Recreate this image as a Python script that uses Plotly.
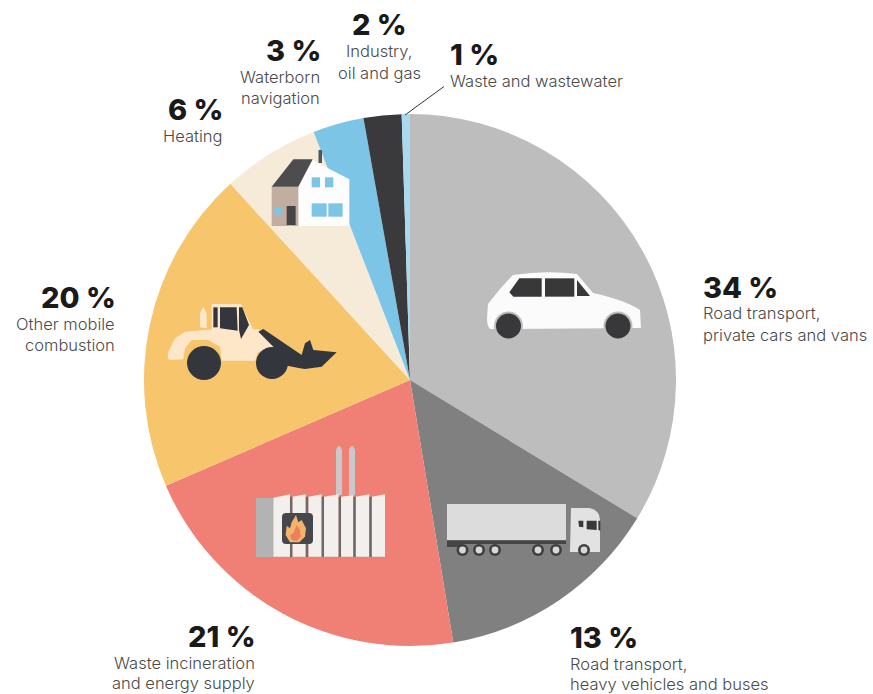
import re
import plotly.graph_objects as go

W, H = 873, 694

# ---- data -------------------------------------------------------------
categories = ["Road transport, private cars and vans", "Road transport, heavy vehicles and buses",
              "Waste incineration and energy supply", "Other mobile combustion", "Heating",
              "Waterborn navigation", "Industry, oil and gas", "Waste and wastewater"]
# slice sizes as drawn in the picture
slice_values = [33.7, 13.7, 21.1, 19.7, 5.9, 3.1, 2.3, 0.5]
percent_labels = ["34 %", "13 %", "21 %", "20 %", "6 %", "3 %", "2 %", "1 %"]
detail_lines = [["Road transport,", "private cars and vans"],
                ["Road transport,", "heavy vehicles and buses"],
                ["Waste incineration", "and energy supply"],
                ["Other mobile", "combustion"],
                ["Heating"],
                ["Waterborn", "navigation"],
                ["Industry,", "oil and gas"],
                ["Waste and wastewater"]]

# ---- styling / layout --------------------------------------------------
slice_colors = ["#bdbdbd", "#808080", "#f07f75", "#f6c56c", "#f6ead9", "#7cc5e6", "#3a3a3c", "#a9d9ef"]
label_x = [703, 570, 255, 115, 222, 320, 379, 450]
label_anchor = ["left", "left", "right", "right", "right", "right", "center", "left"]
pct_shift = {"left": -2, "right": 3, "center": 0}
detail_shift = {"left": -2, "right": 2, "center": 0}
pct_y = [287, 637, 636, 297.5, 109.5, 51, 25, 54]
detail_y = [[313, 335], [664, 684], [663, 683], [324, 345], [136], [77, 98], [51, 73], [81]]
CX, CY, R = 410, 380, 266
FONT = "Inter, Lato, sans-serif"


def px(x):
    return x / W


def py(y):
    return 1 - y / H


def poly(points, fill, **kw):
    d = "M" + " L".join(f"{px(x):.5f},{py(y):.5f}" for x, y in points) + " Z"
    return dict(type="path", path=d, xref="paper", yref="paper", fillcolor=fill,
                line=dict(width=0), layer="above", **kw)


def curve(path, fill):
    nums = iter(re.findall(r"[A-Za-z]|-?[\d.]+", path))
    out, is_x = [], True
    for tok in nums:
        if tok.isalpha():
            out.append(tok)
            is_x = True
        else:
            v = float(tok)
            out.append(f"{px(v):.5f}," if is_x else f"{py(v):.5f}")
            is_x = not is_x
    d = ""
    for t in out:
        d += t if t.endswith(",") or t.isalpha() else t + " "
    return dict(type="path", path=d, xref="paper", yref="paper", fillcolor=fill,
                line=dict(width=0), layer="above")


def circ(x, y, r, fill):
    return dict(type="circle", xref="paper", yref="paper", x0=px(x - r), x1=px(x + r),
                y0=py(y + r), y1=py(y - r), fillcolor=fill, line=dict(width=0), layer="above")


def rect(x0, y0, x1, y1, fill):
    return poly([(x0, y0), (x1, y0), (x1, y1), (x0, y1)], fill)


def z(ox, oy, pts):
    return [(ox + a / 3, oy + b / 3) for a, b in pts]


shapes = []

# leader line for the 1 % slice
shapes.append(dict(type="line", xref="paper", yref="paper", x0=px(444), y0=py(86.5), x1=px(405), y1=py(115),
                   line=dict(color="#333333", width=1), layer="above"))

# --- car
shapes.append(curve("M487,318 L488,304 Q500,288 513,275 Q545,270 577,274 L593,293 Q625,300 640,310 "
                    "L641,328 L490,329 Q487,326 487,318 Z", "#fbfbfb"))
for x in (508.5, 618):
    shapes.append(circ(x, 326, 14.5, "#bdbdbd"))
    shapes.append(circ(x, 326, 12.5, "#38383a"))
for w in ([(118, 127), (148, 85), (215, 85), (215, 140), (130, 140)],
          [(225, 85), (313, 85), (313, 140), (225, 140)],
          [(321, 90), (360, 138), (321, 138)]):
    shapes.append(poly(z(470, 250, w), "#38383a"))

# --- truck
shapes.append(rect(447, 504, 566, 540, "#dcdcdc"))
shapes.append(rect(447, 540.5, 566, 544, "#454545"))
shapes.append(rect(447, 541, 462, 547, "#454545"))
shapes.append(curve("M571,508 L589,508 Q600,510 600,520 L600,552 L570,552 Z", "#e2e2e2"))
for w in ([(445, 92), (460, 92), (460, 112), (447, 110)], [(470, 92), (500, 92), (500, 120), (470, 118)],
          [(505, 92), (511, 92), (511, 122), (505, 120)]):
    shapes.append(poly(z(430, 490, w), "#38383a"))
for x in (462.5, 479, 495, 538, 556, 584):
    shapes.append(circ(x, 550, 6, "#3f3f3f"))
    shapes.append(circ(x, 550, 3.4, "#d8d8d8"))

# --- plant
for x in (336, 349):
    shapes.append(curve(f"M{x},495 L{x},450 Q{x+3},442 {x+6},450 L{x+6},495 Z", "#c9c9c9"))
shapes.append(rect(256, 498, 273, 557, "#b3b3b3"))
for a, b, t0, t1 in ((100, 150, 188, 178), (157, 197, 185, 178), (205, 245, 185, 178), (252, 296, 185, 178),
                     (303, 340, 185, 180), (347, 388, 185, 178), (395, 435, 185, 178)):
    shapes.append(poly(z(240, 435, [(a, t0), (b, t1), (b, 365), (a, 365)]), "#f2efec"))
for zx in (153.5, 201, 248.5, 299.5, 343.5, 391.5):
    shapes.append(rect(240 + zx / 3 - 1.2, 435 + 185 / 3, 240 + zx / 3 + 1.2, 557, "#6b6b6b"))
shapes.append(curve("M286,513 L309,513 Q313,513 313,517 L313,540 Q313,544 309,544 L286,544 "
                    "Q282,544 282,540 L282,517 Q282,513 286,513 Z", "#45474d"))
shapes.append(poly(z(240, 435, [(168, 240), (175, 262), (185, 255), (198, 280), (195, 305), (178, 322), (150, 322),
                                (137, 300), (140, 272), (150, 280), (155, 262)]), "#f4b469"))
shapes.append(poly(z(240, 435, [(170, 270), (180, 285), (182, 305), (170, 318), (155, 315), (150, 300), (160, 295)]),
                   "#ee7f5e"))

# --- loader
CREAM = "#fde7c8"
shapes.append(poly(z(155, 290, [(135, 112), (135, 70), (145, 50), (155, 70), (155, 115)]), CREAM))
shapes.append(poly(z(155, 290, [(38, 205), (40, 185), (60, 145), (90, 125), (180, 118), (310, 118), (330, 140), (362, 178),
                                (310, 185), (300, 212), (200, 212), (195, 170), (160, 150), (110, 150), (90, 175),
                                (85, 208), (45, 210)]), CREAM))
shapes.append(poly(z(155, 290, [(170, 42), (258, 42), (295, 120), (170, 120)]), CREAM))
for w in ([(175, 52), (188, 52), (188, 112), (175, 112)], [(195, 52), (245, 52), (248, 122), (195, 115)],
          [(252, 52), (262, 52), (282, 105), (258, 147), (252, 120)]):
    shapes.append(poly(z(155, 290, w), "#33363d"))
shapes.append(circ(204, 363, 17, "#33363d"))
shapes.append(circ(272, 363, 16, "#33363d"))
shapes.append(poly(z(155, 290, [(310, 125), (325, 117), (440, 195), (450, 160), (465, 150), (475, 180), (545, 187),
                                (500, 230), (450, 237), (435, 235), (385, 225), (355, 170)]), "#33363d"))

# --- house
shapes.append(rect(318.5, 150, 322, 163, "#555555"))
shapes.append(poly(z(150, 0, [(445, 560), (488, 480), (505, 490), (598, 538), (598, 678), (445, 678)]), "#fdfdfd"))
shapes.append(rect(150 + 365 / 3, 560 / 3, 150 + 445 / 3, 678 / 3, "#c2aea0"))
shapes.append(poly(z(150, 0, [(365, 560), (430, 478), (488, 478), (445, 560)]), "#4d4d4f"))
for a, b, c, d in ((485, 532, 510, 562), (525, 532, 550, 562), (485, 610, 530, 650), (535, 610, 578, 650)):
    shapes.append(rect(150 + a / 3, b / 3, 150 + c / 3, d / 3, "#7cc5e6"))
shapes.append(rect(150 + 410 / 3, 618 / 3, 150 + 437 / 3, 675 / 3, "#454545"))
shapes.append(circ(150 + 385 / 3, 633 / 3, 4.3, "#7cc5e6"))

# ---- text -------------------------------------------------------------
annotations = []
for i, pct in enumerate(percent_labels):
    anc = label_anchor[i]
    annotations.append(dict(x=px(label_x[i] + pct_shift[anc]), y=py(pct_y[i]), xref="paper", yref="paper", text=pct,
                            showarrow=False, xanchor=anc, yanchor="middle",
                            font=dict(family=FONT, size=29, color="#1a1a1a", weight=800)))
    for line, y in zip(detail_lines[i], detail_y[i]):
        annotations.append(dict(x=px(label_x[i] + detail_shift[anc]), y=py(y), xref="paper", yref="paper", text=line,
                                showarrow=False, xanchor=anc, yanchor="middle",
                                font=dict(family=FONT, size=16.5, color="#4a4a4a", weight=300)))

fig = go.Figure(go.Pie(labels=categories, values=slice_values, sort=False, direction="clockwise", rotation=0,
                       textinfo="none", hoverinfo="label", showlegend=False,
                       marker=dict(colors=slice_colors, line=dict(width=0)),
                       domain=dict(x=[px(CX - R), px(CX + R)], y=[py(CY + R), py(CY - R)])))
fig.update_layout(width=W, height=H, margin=dict(l=0, r=0, t=0, b=0), paper_bgcolor="white",
                  shapes=shapes, annotations=annotations, showlegend=False)
fig.write_html("out.html", post_script="document.body.style.margin='0';", config=dict(displayModeBar=False))
